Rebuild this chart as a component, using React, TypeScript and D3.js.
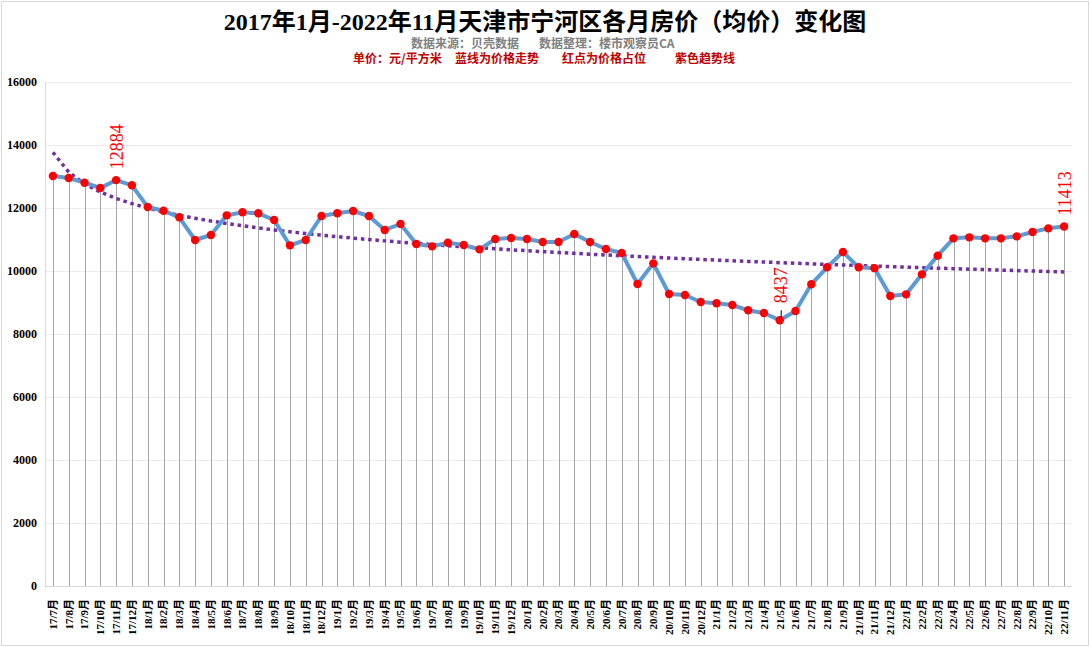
import React from "react";
import * as d3 from "d3";

const categories = [
  "17/7月","17/8月","17/9月","17/10月","17/11月","17/12月",
  "18/1月","18/2月","18/3月","18/4月","18/5月","18/6月","18/7月","18/8月","18/9月","18/10月","18/11月","18/12月",
  "19/1月","19/2月","19/3月","19/4月","19/5月","19/6月","19/7月","19/8月","19/9月","19/10月","19/11月","19/12月",
  "20/1月","20/2月","20/3月","20/4月","20/5月","20/6月","20/7月","20/8月","20/9月","20/10月","20/11月","20/12月",
  "21/1月","21/2月","21/3月","21/4月","21/5月","21/6月","21/7月","21/8月","21/9月","21/10月","21/11月","21/12月",
  "22/1月","22/2月","22/3月","22/4月","22/5月","22/6月","22/7月","22/8月","22/9月","22/10月","22/11月",
];

const prices = [
  13016, 12952, 12803, 12635, 12884, 12720,
  12032, 11915, 11704, 10984, 11143, 11767, 11863, 11831, 11619, 10815, 10984, 11746,
  11831, 11905, 11746, 11302, 11492, 10857, 10783, 10899, 10825, 10688, 11016, 11048,
  11016, 10920, 10920, 11175, 10920, 10698, 10571, 9587, 10243, 9270, 9238, 9016,
  8974, 8921, 8752, 8667, 8437, 8730, 9577, 10117, 10603, 10117, 10090, 9206,
  9259, 9894, 10487, 11037, 11069, 11037, 11037, 11100, 11238, 11354, 11413,
];

const yTicks = [0, 2000, 4000, 6000, 8000, 10000, 12000, 14000, 16000];
const labeledIdx = [4, 46, 64];
const leaderIdx = [46];

const title = "2017年1月-2022年11月天津市宁河区各月房价（均价）变化图";
const subtitleParts = [
  { text: "数据来源：贝壳数据", x: 411 },
  { text: "数据整理：楼市观察员CA", x: 539 },
];
const noteParts = [
  { text: "单价：元/平方米", x: 353 },
  { text: "蓝线为价格走势", x: 455 },
  { text: "红点为价格占位", x: 562 },
  { text: "紫色趋势线", x: 675 },
];

const W = 1090;
const H = 647;

export default function App() {
  const x = d3.scaleBand<string>().domain(categories).range([45, 1072]).padding(0);
  const cx = (i: number) => (x(categories[i]) as number) + x.bandwidth() / 2;
  const y = d3.scaleLinear().domain([0, 16000]).range([586, 82]);

  // logarithmic trendline (least squares on ln(n))
  const lx = prices.map((_, i) => Math.log(i + 1));
  const mx = d3.mean(lx) as number;
  const my = d3.mean(prices) as number;
  let sxy = 0, sxx = 0;
  lx.forEach((v, i) => { sxy += (v - mx) * (prices[i] - my); sxx += (v - mx) * (v - mx); });
  const b = sxy / sxx;
  const a = my - b * mx;
  const trend = prices.map((_, i) => a + b * Math.log(i + 1));

  const line = d3.line<number>().x((_, i) => cx(i)).y((d) => y(d));
  const serif = "'Liberation Serif', 'Times New Roman', 'Noto Sans CJK SC', serif";
  const cjk = "'Noto Sans CJK SC', 'Liberation Sans', sans-serif";

  return (
    <div style={{ position: "absolute", left: 0, top: 0 }}>
      <svg width={W} height={H} style={{ display: "block" }}>
        <rect x={0} y={0} width={W} height={H} fill="#fff" />
        <rect x={1.5} y={1.5} width={W - 3} height={H - 3} fill="none" stroke="#d9d9d9" strokeWidth={1} />

        <text x={545} y={29.5} textAnchor="middle" fontFamily={serif} fontWeight="bold" fontSize={24} fill="#000">{title}</text>
        {subtitleParts.map((p) => (
          <text key={p.text} x={p.x} y={47.5} fontFamily={cjk} fontWeight="bold" fontSize={12} fill="#808080">{p.text}</text>
        ))}
        {noteParts.map((p) => (
          <text key={p.text} x={p.x} y={63} fontFamily={cjk} fontWeight="bold" fontSize={12} fill="#c00000">{p.text}</text>
        ))}

        {/* gridlines */}
        {yTicks.map((t) => (
          <line key={t} x1={45} x2={1072} y1={Math.round(y(t)) + 0.5} y2={Math.round(y(t)) + 0.5} stroke="#ececec" strokeWidth={1} />
        ))}
        {/* axes */}
        <line x1={45.5} x2={45.5} y1={82} y2={586} stroke="#d9d9d9" />
        <line x1={45} x2={1072} y1={586.5} y2={586.5} stroke="#d9d9d9" />

        {yTicks.map((t) => (
          <text key={t} x={37} y={y(t)} dy="0.35em" textAnchor="end" fontFamily={serif} fontWeight="bold" fontSize={12} fill="#000">{t}</text>
        ))}

        {categories.map((c, i) => (
          <text key={c} transform={`translate(${cx(i)},${599}) rotate(-90)`} dy="0.35em" textAnchor="end" fontFamily={serif} fontWeight="bold" fontSize={11} fill="#000">{c}</text>
        ))}

        {/* drop lines */}
        {prices.map((v, i) => (
          <line key={i} x1={Math.round(cx(i)) + 0.5} x2={Math.round(cx(i)) + 0.5} y1={y(v)} y2={586} stroke="#a6a6a6" strokeWidth={1} />
        ))}

        {/* trend */}
        <path d={line(trend) as string} fill="none" stroke="#7030a0" strokeWidth={3.5} strokeDasharray="3.5 3.8" />

        {/* price line */}
        <path d={line(prices) as string} fill="none" stroke="#5b9bd5" strokeWidth={4} strokeLinejoin="round" />
        {prices.map((v, i) => (
          <circle key={i} cx={cx(i)} cy={y(v)} r={4.2} fill="#ff0000" />
        ))}

        {leaderIdx.map((i) => (
          <line key={i} x1={cx(i) + 1.5} x2={cx(i) + 1.5} y1={y(prices[i]) - 10} y2={y(prices[i]) - 3} stroke="#000" strokeWidth={1} />
        ))}
        {labeledIdx.map((i) => {
          const off = leaderIdx.includes(i) ? 17 : 11;
          return (
            <text key={i} transform={`translate(${cx(i) + 1},${y(prices[i]) - off}) rotate(-90)`} dy="0.35em" textAnchor="start" fontFamily={serif} fontSize={18} fill="#ff0000">{prices[i]}</text>
          );
        })}
      </svg>
    </div>
  );
}
